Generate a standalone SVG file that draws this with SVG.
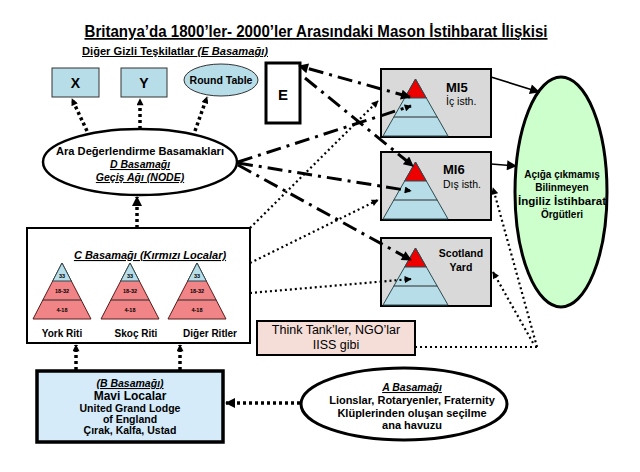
<svg xmlns="http://www.w3.org/2000/svg" width="640" height="472" viewBox="0 0 640 472">
<style>
text{font-family:"Liberation Sans",Arial,sans-serif;font-weight:bold;fill:#000}
.c{text-anchor:middle}
.u{text-decoration:underline}
.i{font-style:italic}
.n{font-weight:normal}
.lb{fill:#b7dde8;stroke:#333;stroke-width:1}
.mi{fill:#d9d9d9;stroke:#000;stroke-width:2}
.pc{fill:#b7dde8;stroke:#2a4a50;stroke-width:1}
.pr{fill:#ee0000;stroke:#2a4a50;stroke-width:1}
.ps{fill:#f08486;stroke:#5a1a1a;stroke-width:1}
.pl{stroke:#2a2a2a;stroke-width:1;fill:none}
.dd{fill:none;stroke:#000;stroke-width:3;stroke-dasharray:15 6 3 6}
.dt{fill:none;stroke:#000;stroke-width:2.2;stroke-dasharray:2 3}
.bd{fill:none;stroke:#000;stroke-width:3.5;stroke-dasharray:3 3}
.sl{fill:none;stroke:#000;stroke-width:1.6}
.tiny{font-size:5.5px}
</style>
<defs>
<marker id="ah" viewBox="0 0 10 10" refX="9" refY="5" markerWidth="12" markerHeight="10" markerUnits="userSpaceOnUse" orient="auto-start-reverse"><path d="M0,0 L10,5 L0,10 z" fill="#000"/></marker>
<marker id="as" viewBox="0 0 10 10" refX="9" refY="5" markerWidth="8" markerHeight="7" markerUnits="userSpaceOnUse" orient="auto"><path d="M0,0 L10,5 L0,10 z" fill="#000"/></marker>
</defs>

<text id="title" class="c u" x="316" y="37" font-size="17" textLength="463" lengthAdjust="spacingAndGlyphs">Britanya’da 1800’ler- 2000’ler Arasındaki Mason İstihbarat İlişkisi</text>
<text id="subtitle" class="u" x="82" y="55" font-size="10" textLength="186" lengthAdjust="spacingAndGlyphs">Diğer Gizli Teşkilatlar <tspan class="i">(E Basamağı)</tspan></text>

<g id="node-x"><rect class="lb" x="52" y="68" width="47" height="29"/><text class="c" x="75.5" y="88" font-size="14">X</text></g>
<g id="node-y"><rect class="lb" x="121" y="68" width="46" height="29"/><text class="c" x="144" y="88" font-size="14">Y</text></g>
<g id="node-roundtable"><ellipse class="lb" cx="221" cy="80" rx="37" ry="16"/><text class="c" x="221" y="84" font-size="10.5">Round Table</text></g>
<g id="node-e"><rect x="266" y="63" width="34" height="60" fill="#fff" stroke="#000" stroke-width="3"/><text class="c" x="283" y="100" font-size="15">E</text></g>

<g id="node-d"><ellipse cx="140" cy="162" rx="97" ry="33" fill="#fff" stroke="#000" stroke-width="2.5"/>
<text class="c" x="140" y="155" font-size="10.5" textLength="168" lengthAdjust="spacingAndGlyphs">Ara Değerlendirme Basamakları</text>
<text class="c u i" x="140" y="168" font-size="10.5">D Basamağı</text>
<text class="c u i" x="140" y="181" font-size="10.5">Geçiş Ağı (NODE)</text></g>

<g id="node-mi5"><rect class="mi" x="381" y="69" width="110" height="68"/>
<polygon class="pc" points="415.5,79 383,136 448,136"/><polygon class="pr" points="415.5,79 404.7,98 426.3,98"/><line class="pl" x1="393.8" y1="117" x2="437.2" y2="117"/>
<text x="446" y="92" font-size="13">MI5</text><text class="n" x="446" y="105" font-size="10.5">İç isth.</text></g>

<g id="node-mi6"><rect class="mi" x="381" y="152" width="110" height="68"/>
<polygon class="pc" points="415.5,162 383,219 448,219"/><polygon class="pr" points="415.5,162 404.7,181 426.3,181"/><line class="pl" x1="393.8" y1="200" x2="437.2" y2="200"/>
<text x="443" y="174" font-size="13">MI6</text><text class="n" x="443" y="188" font-size="10.5">Dış isth.</text></g>

<g id="node-scotland"><rect class="mi" x="381" y="238" width="110" height="68"/>
<polygon class="pc" points="415.5,248 383,305 448,305"/><polygon class="pr" points="415.5,248 404.7,267 426.3,267"/><line class="pl" x1="393.8" y1="286" x2="437.2" y2="286"/>
<text class="c" x="461" y="257" font-size="10.5">Scotland</text><text class="c" x="461" y="271" font-size="10.5">Yard</text></g>

<g id="node-unknown"><ellipse cx="561" cy="192" rx="46" ry="115" fill="#ccffcc" stroke="#000" stroke-width="3"/>
<text class="c" x="562" y="178" font-size="10">Açığa çıkmamış</text>
<text class="c" x="562" y="191" font-size="10">Bilinmeyen</text>
<text class="c" x="562" y="205" font-size="10" textLength="88" lengthAdjust="spacingAndGlyphs">İngiliz İstihbarat</text>
<text class="c" x="562" y="218" font-size="10">Örgütleri</text></g>

<g id="node-c"><rect x="27" y="228" width="223" height="115" fill="#fff" stroke="#000" stroke-width="2"/>
<text class="c u i" x="150" y="259" font-size="11">C Basamağı (Kırmızı Localar)</text>
<g id="pyr-york">
<polygon class="ps" points="62,263 33,319 91,319"/><polygon class="pc" points="62,263 52.7,281 71.3,281"/><line class="pl" x1="42.8" y1="300" x2="81.2" y2="300"/>
<text class="c tiny" x="62" y="278">33</text><text class="c tiny" x="62" y="293">18-32</text><text class="c tiny" x="62" y="312">4-18</text>
<text class="c" x="62" y="337" font-size="10">York Riti</text></g>
<g id="pyr-skoc">
<polygon class="ps" points="130,263 101,319 159,319"/><polygon class="pc" points="130,263 120.7,281 139.3,281"/><line class="pl" x1="110.8" y1="300" x2="149.2" y2="300"/>
<text class="c tiny" x="130" y="278">33</text><text class="c tiny" x="130" y="293">18-32</text><text class="c tiny" x="130" y="312">4-18</text>
<text class="c" x="136" y="337" font-size="10">Skoç Riti</text></g>
<g id="pyr-diger">
<polygon class="ps" points="197,263 168,319 226,319"/><polygon class="pc" points="197,263 187.7,281 206.3,281"/><line class="pl" x1="177.8" y1="300" x2="216.2" y2="300"/>
<text class="c tiny" x="197" y="278">33</text><text class="c tiny" x="197" y="293">18-32</text><text class="c tiny" x="197" y="312">4-18</text>
<text class="c" x="210" y="337" font-size="10">Diğer Ritler</text></g>
</g>

<g id="node-b"><rect x="37" y="371" width="186" height="71" fill="#d5ebfa" stroke="#000" stroke-width="3.5"/>
<text class="c u i" x="130" y="387" font-size="10.5">(B Basamağı)</text>
<text class="c" x="130" y="400" font-size="12">Mavi Localar</text>
<text class="c" x="130" y="412" font-size="10.5">United Grand Lodge</text>
<text class="c" x="130" y="423" font-size="10.5">of England</text>
<text class="c" x="130" y="434" font-size="10.5">Çırak, Kalfa, Ustad</text></g>

<g id="node-thinktank"><rect x="257" y="321" width="158" height="34" fill="#f5ddd8" stroke="#000" stroke-width="2"/>
<text class="c n" x="336" y="334" font-size="12.5">Think Tank’ler, NGO’lar</text>
<text class="c n" x="336" y="349" font-size="12.5">IISS gibi</text></g>

<g id="node-a"><ellipse cx="404" cy="404" rx="103" ry="36" fill="#fff" stroke="#000" stroke-width="3"/>
<text class="c u i" x="412" y="391" font-size="10.5">A Basamağı</text>
<text class="c" x="412" y="404" font-size="11">Lionslar, Rotaryenler, Fraternity</text>
<text class="c" x="412" y="417" font-size="11">Klüplerinden oluşan seçilme</text>
<text class="c" x="412" y="429" font-size="11">ana havuzu</text></g>

<g id="connectors">
<path class="sl" d="M491,77 L539,92" marker-end="url(#ah)"/>
<path class="sl" d="M491,164 L516,166" marker-end="url(#ah)"/>
<path class="dd" d="M410,97 L299,66" marker-start="url(#ah)" marker-end="url(#ah)"/>
<path class="dd" d="M305,78 L413,166" marker-end="url(#ah)"/>
<path class="dd" d="M238,162 L411,106" marker-end="url(#as)"/>
<path class="dd" d="M238,163 L411,191" marker-end="url(#as)"/>
<path class="dd" d="M238,165 L411,260" marker-end="url(#ah)"/>
<path class="dt" d="M250,228 L378,101" marker-end="url(#as)"/>
<path class="dt" d="M250,263 L378,200" marker-end="url(#as)"/>
<path class="dt" d="M250,293 L411,279" marker-end="url(#as)"/>
<path class="dt" d="M415,347 L537,347"/>
<path class="dt" d="M537,347 L493,188" marker-end="url(#as)"/>
<path class="dt" d="M533,343 L493,272" marker-end="url(#as)"/>
<path class="bd" d="M137,228 L137,197" marker-end="url(#ah)"/>
<path class="bd" d="M87,131 L72,99" marker-end="url(#as)"/>
<path class="bd" d="M140,129 L140,99" marker-end="url(#as)"/>
<path class="bd" d="M195,131 L207,97" marker-end="url(#as)"/>
<path class="bd" d="M76,370 L76,345" marker-end="url(#as)"/>
<path class="bd" d="M180,370 L180,345" marker-end="url(#as)"/>
<path class="bd" d="M300,403 L226,403" marker-end="url(#ah)"/>
</g>
</svg>
